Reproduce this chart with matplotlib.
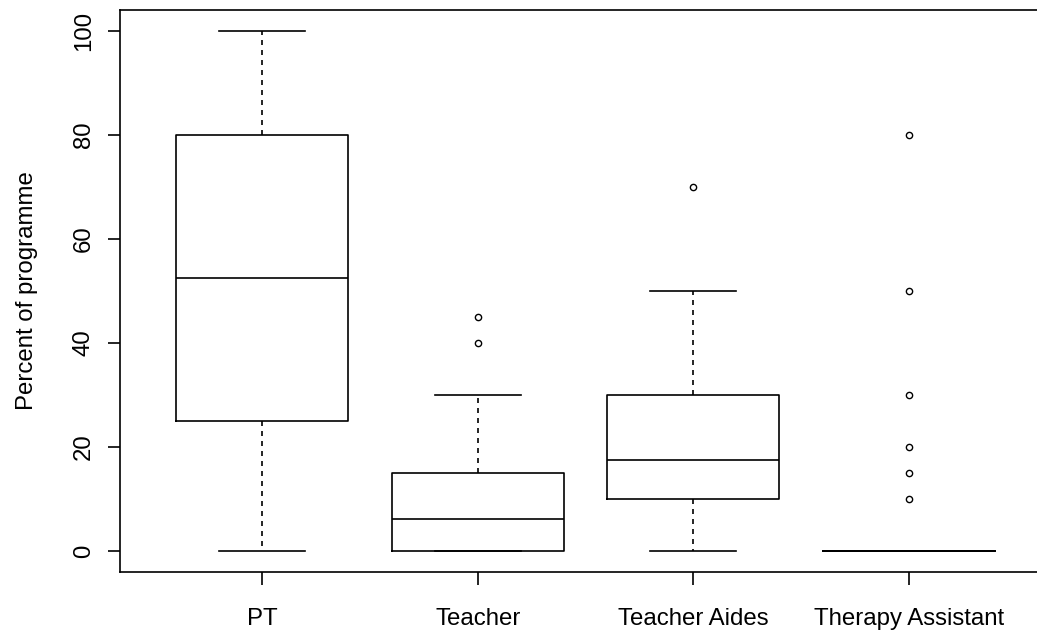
import matplotlib
matplotlib.use("Agg")
import matplotlib.pyplot as plt

categories = ["PT", "Teacher", "Teacher Aides", "Therapy Assistant"]
whislo = [0, 0, 0, 0]
q1 = [25, 0, 10, 0]
med = [52.5, 6.25, 17.5, 0]
q3 = [80, 15, 30, 0]
whishi = [100, 30, 50, 0]
fliers = [[], [40, 45], [70], [10, 15, 20, 30, 50, 80]]
yticks = [0, 20, 40, 60, 80, 100]
ylabel = "Percent of programme"

plt.rcParams["font.family"] = ["Liberation Sans", "DejaVu Sans"]

fig = plt.figure(figsize=(10.37, 6.32), dpi=100)
ax = fig.add_axes([120 / 1037, 60 / 632, 931 / 1037, 562 / 632])

stats = []
for i, c in enumerate(categories):
    stats.append(dict(label=c, whislo=whislo[i], q1=q1[i], med=med[i],
                      q3=q3[i], whishi=whishi[i], fliers=fliers[i]))

lw = 1.2
ax.bxp(stats, positions=range(1, len(categories) + 1), widths=0.8,
       showfliers=True,
       boxprops=dict(color="black", linewidth=lw),
       medianprops=dict(color="black", linewidth=lw),
       whiskerprops=dict(color="black", linewidth=lw, linestyle=(0, (3, 3))),
       capprops=dict(color="black", linewidth=lw),
       capwidths=0.4,
       flierprops=dict(marker="o", markerfacecolor="none", markeredgecolor="black",
                       markersize=4.5, markeredgewidth=1.0, linestyle="none"))

fs = 17.3
ax.set_xlim(0.34, 4.66)
ax.set_ylim(-4, 104)
ax.set_yticks(yticks)
ax.set_yticklabels([str(v) for v in yticks], rotation=90, va="center")
ax.set_xticks(range(1, len(categories) + 1))
ax.set_xticklabels(categories)
ax.tick_params(axis="both", direction="out", length=9, width=lw, colors="black",
               labelsize=fs)
ax.tick_params(axis="y", pad=9)
ax.tick_params(axis="x", pad=17)
for s in ax.spines.values():
    s.set_linewidth(lw)
ax.set_ylabel(ylabel, fontsize=fs)
ax.yaxis.set_label_coords((38 - 120) / 931, 0.5)

fig.savefig("out.png", dpi=100)
